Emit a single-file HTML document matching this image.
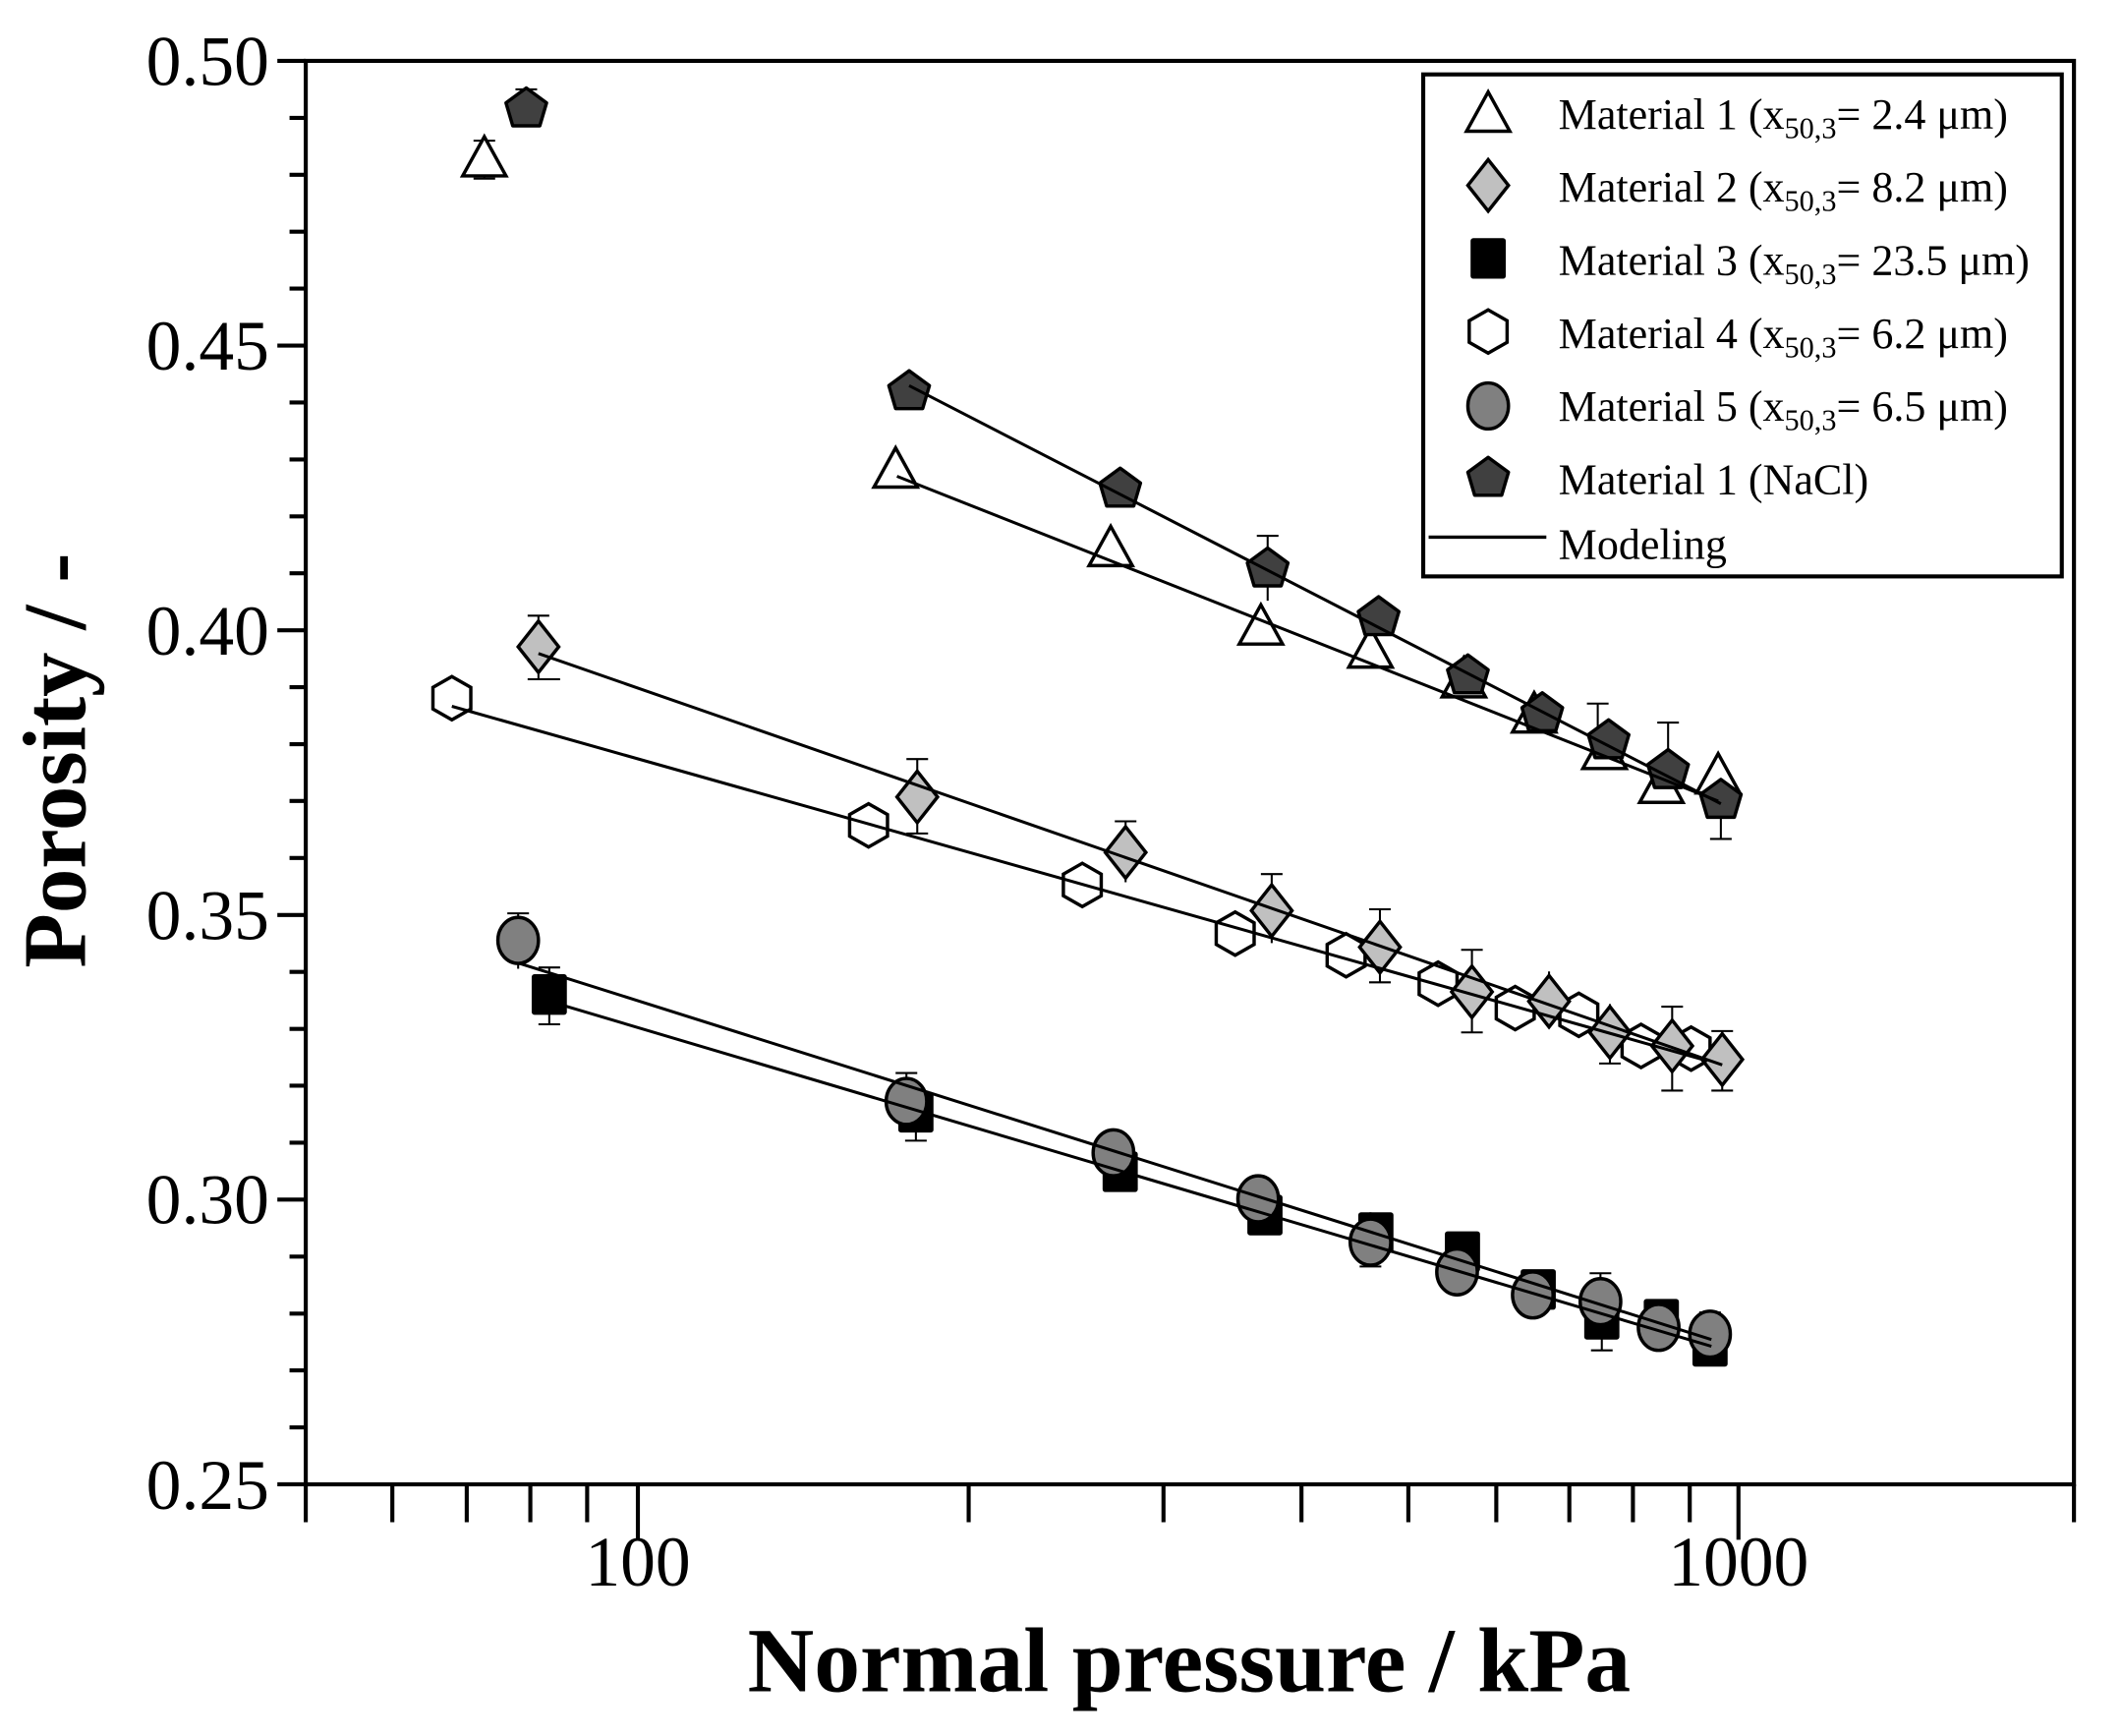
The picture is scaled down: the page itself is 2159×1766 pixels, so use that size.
<!DOCTYPE html>
<html><head><meta charset="utf-8"><style>html,body{margin:0;padding:0;background:#fff}svg{display:block}</style></head>
<body>
<svg width="2159" height="1766" viewBox="0 0 1568.5 1283" xmlns="http://www.w3.org/2000/svg" font-family="'Liberation Serif', serif">
<defs>
<polygon id="tri" points="0,-18 16,11 -16,11" fill="#fff" stroke="#000" stroke-width="2.5"/>
<polygon id="pent" points="0,-15 15,-4 10,13 -10,13 -15,-4" fill="#404040" stroke="#000" stroke-width="2.5" stroke-linejoin="round"/>
<polygon id="dia" points="0,-19 15,0 0,19 -15,0" fill="#c0c0c0" stroke="#000" stroke-width="2.5"/>
<polygon id="hex" points="0,-16 14,-8 14,8 0,16 -14,8 -14,-8" fill="#fff" stroke="#000" stroke-width="2.5"/>
<rect id="sq" x="-13" y="-15" width="26" height="30" rx="2" fill="#000"/>
<ellipse id="cir" rx="15" ry="17" fill="#808080" stroke="#000" stroke-width="2.5"/>
</defs>
<g stroke="#000" fill="none">
<rect x="226" y="45" width="1307" height="1052" stroke-width="3"/>
</g>
<g stroke="#000" stroke-width="3">
<line x1="205" y1="45" x2="226" y2="45"/><line x1="205" y1="255.4" x2="226" y2="255.4"/><line x1="205" y1="465.8" x2="226" y2="465.8"/><line x1="205" y1="676.2" x2="226" y2="676.2"/><line x1="205" y1="886.6" x2="226" y2="886.6"/><line x1="205" y1="1097" x2="226" y2="1097"/>
</g>
<g stroke="#000" stroke-width="3">
<line x1="214" y1="87.1" x2="226" y2="87.1"/><line x1="214" y1="129.2" x2="226" y2="129.2"/><line x1="214" y1="171.2" x2="226" y2="171.2"/><line x1="214" y1="213.3" x2="226" y2="213.3"/>
<line x1="214" y1="297.5" x2="226" y2="297.5"/><line x1="214" y1="339.6" x2="226" y2="339.6"/><line x1="214" y1="381.6" x2="226" y2="381.6"/><line x1="214" y1="423.7" x2="226" y2="423.7"/>
<line x1="214" y1="507.9" x2="226" y2="507.9"/><line x1="214" y1="550" x2="226" y2="550"/><line x1="214" y1="592" x2="226" y2="592"/><line x1="214" y1="634.1" x2="226" y2="634.1"/>
<line x1="214" y1="718.3" x2="226" y2="718.3"/><line x1="214" y1="760.4" x2="226" y2="760.4"/><line x1="214" y1="802.4" x2="226" y2="802.4"/><line x1="214" y1="844.5" x2="226" y2="844.5"/>
<line x1="214" y1="928.7" x2="226" y2="928.7"/><line x1="214" y1="970.8" x2="226" y2="970.8"/><line x1="214" y1="1012.8" x2="226" y2="1012.8"/><line x1="214" y1="1054.9" x2="226" y2="1054.9"/>
</g>
<g stroke="#000" stroke-width="3">
<line x1="471.5" y1="1097" x2="471.5" y2="1138"/><line x1="1285" y1="1097" x2="1285" y2="1138"/>
<line x1="226" y1="1097" x2="226" y2="1125"/><line x1="290" y1="1097" x2="290" y2="1125"/><line x1="345" y1="1097" x2="345" y2="1125"/><line x1="392" y1="1097" x2="392" y2="1125"/><line x1="434" y1="1097" x2="434" y2="1125"/>
<line x1="716" y1="1097" x2="716" y2="1125"/><line x1="860" y1="1097" x2="860" y2="1125"/><line x1="962" y1="1097" x2="962" y2="1125"/><line x1="1041" y1="1097" x2="1041" y2="1125"/><line x1="1106" y1="1097" x2="1106" y2="1125"/><line x1="1160" y1="1097" x2="1160" y2="1125"/><line x1="1207" y1="1097" x2="1207" y2="1125"/><line x1="1249" y1="1097" x2="1249" y2="1125"/><line x1="1533" y1="1097" x2="1533" y2="1125"/>
</g>
<g font-size="52" text-anchor="end">
<text x="199" y="63">0.50</text><text x="199" y="273">0.45</text><text x="199" y="484">0.40</text><text x="199" y="694">0.35</text><text x="199" y="904">0.30</text><text x="199" y="1115">0.25</text>
</g>
<g font-size="52" text-anchor="middle">
<text x="471.5" y="1172">100</text><text x="1285" y="1172">1000</text>
</g>
<text x="879" y="1250" font-size="68" font-weight="bold" text-anchor="middle">Normal pressure / kPa</text>
<text transform="translate(63,562) rotate(-90)" font-size="66" font-weight="bold" text-anchor="middle">Porosity / -</text>

<g stroke="#000" stroke-width="1.5">
<path d="M358 104V132M350 104H366M350 132H366"/><path d="M389 66V92M381 66H397"/>
<path d="M937 396V444M929 396H945M1019 448V466M1011 448H1027M1140 519V537M1181 520V552M1173 520H1189M1233 534V587M1225 534H1241M1272 574V620M1264 620H1280"/>
<path d="M398 455V502M390 455H406M390 502H414M678 561V616M670 561H686M670 616H686M832 607V652M824 607H840M940 646V697M932 646H948M1020 672V726M1012 672H1028M1012 726H1028M1088 702V763M1080 702H1096M1080 763H1096M1145 718V758M1190 742V786M1182 786H1198M1236 744V806M1228 744H1244M1228 806H1244M1273 762V806M1265 762H1281M1265 806H1281"/>
<path d="M406 715V757M398 715H414M398 757H414M677 800V843M669 843H685M828 855V878M1017 898V924M1009 898H1025M1184 950V998M1176 998H1192M670 793V835M662 793H678M823 836V868M1013 896V936M1005 936H1021M1183 941V980M1175 941H1191M1264 970V1002M1256 970H1272M383 675V716M375 675H391"/>
</g>
<g>
<use href="#hex" x="334" y="516"/><use href="#hex" x="642" y="610"/><use href="#hex" x="800" y="654"/><use href="#hex" x="913" y="690"/><use href="#hex" x="995" y="706"/><use href="#hex" x="1063" y="727"/><use href="#hex" x="1120" y="745"/><use href="#hex" x="1167" y="750"/><use href="#hex" x="1213" y="773"/><use href="#hex" x="1250" y="775"/>
<use href="#dia" x="398" y="478"/><use href="#dia" x="678" y="589"/><use href="#dia" x="832" y="630"/><use href="#dia" x="940" y="673"/><use href="#dia" x="1020" y="700"/><use href="#dia" x="1088" y="733"/><use href="#dia" x="1145" y="740"/><use href="#dia" x="1190" y="763"/><use href="#dia" x="1236" y="773"/><use href="#dia" x="1273" y="783"/>
<use href="#sq" x="406" y="735"/><use href="#sq" x="677" y="822"/><use href="#sq" x="828" y="866"/><use href="#sq" x="935" y="898"/><use href="#sq" x="1017" y="911"/><use href="#sq" x="1081" y="925"/><use href="#sq" x="1137" y="953"/><use href="#sq" x="1184" y="975"/><use href="#sq" x="1228" y="975"/><use href="#sq" x="1264" y="995"/>
<use href="#cir" x="383" y="695"/><use href="#cir" x="670" y="814"/><use href="#cir" x="823" y="852"/><use href="#cir" x="930" y="886"/><use href="#cir" x="1013" y="918"/><use href="#cir" x="1077" y="940"/><use href="#cir" x="1133" y="957"/><use href="#cir" x="1183" y="962"/><use href="#cir" x="1226" y="981"/><use href="#cir" x="1264" y="986"/>
<use href="#tri" x="358" y="119"/><use href="#tri" x="662" y="349"/><use href="#tri" x="821" y="407"/><use href="#tri" x="932" y="465"/><use href="#tri" x="1013" y="482"/><use href="#tri" x="1082" y="504"/><use href="#tri" x="1134" y="530"/><use href="#tri" x="1186" y="557"/><use href="#tri" x="1228" y="582"/><use href="#tri" x="1270" y="575"/>
<use href="#pent" x="389" y="80"/><use href="#pent" x="672" y="289"/><use href="#pent" x="828" y="361"/><use href="#pent" x="937" y="420"/><use href="#pent" x="1019" y="456"/><use href="#pent" x="1085" y="499"/><use href="#pent" x="1140" y="527"/><use href="#pent" x="1189" y="547"/><use href="#pent" x="1233" y="569"/><use href="#pent" x="1272" y="591"/>
</g>
<g stroke="#000" stroke-width="2.2">
<line x1="663" y1="352" x2="1270" y2="592"/>
<line x1="672" y1="285" x2="1272" y2="594"/>
<line x1="398" y1="483" x2="1273" y2="787"/>
<line x1="334" y1="522" x2="1262" y2="784"/>
<line x1="406" y1="740" x2="1265" y2="995"/>
<line x1="384" y1="712" x2="1265" y2="990"/>
</g>
<rect x="1052" y="55" width="472" height="371" fill="#fff" stroke="#000" stroke-width="3"/>
<use href="#tri" x="1100" y="86"/>
<use href="#dia" x="1100" y="137"/>
<use href="#sq" x="1100" y="191"/>
<use href="#hex" x="1100" y="245"/>
<use href="#cir" x="1100" y="300"/>
<use href="#pent" x="1100" y="353"/>
<line x1="1056" y1="397" x2="1143" y2="397" stroke="#000" stroke-width="2.5"/>
<g font-size="32">
<text x="1152" y="95">Material 1 (x<tspan font-size="22" dy="7">50,3</tspan><tspan dy="-7">= 2.4 μm)</tspan></text>
<text x="1152" y="149">Material 2 (x<tspan font-size="22" dy="7">50,3</tspan><tspan dy="-7">= 8.2 μm)</tspan></text>
<text x="1152" y="203">Material 3 (x<tspan font-size="22" dy="7">50,3</tspan><tspan dy="-7">= 23.5 μm)</tspan></text>
<text x="1152" y="257">Material 4 (x<tspan font-size="22" dy="7">50,3</tspan><tspan dy="-7">= 6.2 μm)</tspan></text>
<text x="1152" y="311">Material 5 (x<tspan font-size="22" dy="7">50,3</tspan><tspan dy="-7">= 6.5 μm)</tspan></text>
<text x="1152" y="365">Material 1 (NaCl)</text>
<text x="1152" y="413">Modeling</text>
</g>
</svg>
</body></html>
